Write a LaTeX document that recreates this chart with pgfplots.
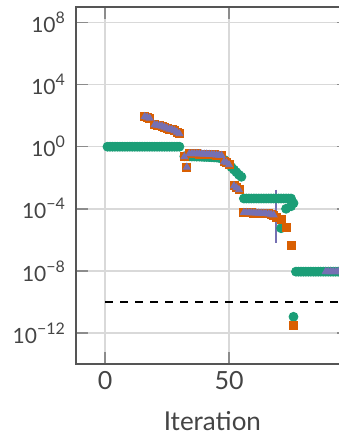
\documentclass[border=0pt]{standalone}
\usepackage{pgfplots}
\pgfplotsset{compat=1.18}
\usepackage{fontspec}
\setmainfont{Lato}
\definecolor{cgreen}{HTML}{1B9E77}
\definecolor{corange}{HTML}{D95F02}
\definecolor{cpurple}{HTML}{7570B3}
\definecolor{txt}{HTML}{444444}
\definecolor{spine}{HTML}{555555}
\definecolor{gridc}{HTML}{D9D9D9}
\definecolor{tickc}{HTML}{8C8C8C}
\newcommand{\tl}[1]{10\raisebox{0.85ex}{\fontsize{8}{8}\selectfont #1}}
\begin{document}
\begin{tikzpicture}
\begin{axis}[
  at={(0,0)}, anchor=south west,
  scale only axis, width=136.4pt, height=178.5pt,
  xmin=-11.7, xmax=98.3, ymode=log, ymin=1e-14, ymax=1e9,
  xtick={0,50}, xticklabels={0,50},
  ytick={1e-12,1e-8,1e-4,1,1e4,1e8},
  yticklabels={\tl{−12},\tl{−8},\tl{−4},\tl{0},\tl{4},\tl{8}},
  yminorticks=false, xminorticks=false,
  tick align=inside, major tick length=6pt,
  grid=major, major grid style={gridc, line width=0.75pt},
  axis line style={spine, line width=0.8pt},
  major tick style={tickc, line width=0.8pt},
  xticklabel style={font=\fontsize{12.5}{14}\selectfont, text=txt},
  yticklabel style={font=\fontsize{10.5}{12}\selectfont, text=txt, xshift=-2pt},
  xlabel={Iteration},
  xlabel style={font=\fontsize{13}{15}\selectfont, text=txt, at={(axis description cs:0.5,0)}, anchor=base, yshift=-33pt},
]
% reference threshold
\addplot[black, line width=1pt, dash pattern=on 4pt off 3.5pt] coordinates {(0,1e-10) (100,1e-10)};
% green
\addplot[only marks, mark=*, mark size=2.25pt, color=cgreen] coordinates {
(1,1)(2,1)(3,1)(4,1)(5,1)(6,1)(7,1)(8,1)(9,1)(10,1)(11,1)(12,1)(13,1)(14,1)(15,1)
(16,1)(17,1)(18,1)(19,1)(20,1)(21,1)(22,1)(23,1)(24,1)(25,1)(26,1)(27,1)(28,1)(29,1)(30,1)
(32,0.24)(33,0.24)(34,0.24)(35,0.235)(36,0.235)(37,0.23)(38,0.23)(39,0.225)(40,0.22)
(41,0.22)(42,0.215)(43,0.21)(44,0.205)(45,0.2)(46,0.19)(47,0.18)
(48,0.145)(49,0.093)(50,0.069)(51,0.048)(52,0.033)(53,0.0225)(54,0.0155)(55,0.0115)
(56,4.6e-4)(57,4.6e-4)(58,4.6e-4)(59,4.6e-4)(60,4.6e-4)(61,4.6e-4)(62,4.6e-4)(63,4.6e-4)
(64,4.6e-4)(65,4.6e-4)(66,4.6e-4)(67,4.6e-4)(68,4.6e-4)(69,4.6e-4)(70,4.6e-4)(71,4.6e-4)
(72,4.6e-4)(73,4.6e-4)(74,4.6e-4)(75,4.6e-4)
(73,1.0e-4)(75,1.45e-4)(76,2.3e-4)
(71,5.6e-6)(76,1.1e-11)
(77,8.9e-9)(78,8.9e-9)(79,8.9e-9)(80,8.9e-9)(81,8.9e-9)(82,8.9e-9)(83,8.9e-9)(84,8.9e-9)
(85,8.9e-9)(86,8.9e-9)(87,8.9e-9)(88,8.9e-9)(89,8.9e-9)(90,8.9e-9)(91,8.9e-9)(92,8.9e-9)
(93,8.9e-9)(94,8.9e-9)(95,8.9e-9)(96,8.9e-9)(97,8.9e-9)(98,8.9e-9)
};
% orange
\addplot[only marks, mark=square*, mark size=2pt, color=corange] coordinates {
(16,87)(17,79)(18,69)
(20,26)(21,24.5)(22,22.5)(23,21)(24,18)(25,15.5)(26,13.5)(27,12.5)(28,10.7)(29,8.7)(30,6.9)
(32,0.224)(33,0.048)
(34,0.35)(35,0.35)(36,0.35)(37,0.35)(38,0.34)(39,0.34)(40,0.33)(41,0.33)(42,0.32)
(43,0.31)(44,0.30)(45,0.29)(46,0.28)(47,0.27)
(48,0.108)(49,0.093)(50,0.069)
(52,3.0e-3)(53,2.25e-3)(54,1.7e-3)
(56,5.8e-5)(57,5.7e-5)(58,5.6e-5)(59,5.5e-5)(60,5.4e-5)(61,5.3e-5)(62,5.2e-5)(63,5.1e-5)
(64,5.0e-5)(65,4.9e-5)(66,4.7e-5)(67,4.4e-5)(68,4.0e-5)
(69,2.6e-5)(71,1.95e-5)(73,6.3e-6)(75,4.1e-7)(76,2.95e-12)
};
% purple
\addplot[only marks, mark=triangle*, mark size=2pt, color=cpurple] coordinates {
(16,87)(17,79)(18,69)
(20,26)(21,24.5)(22,22.5)(23,21)(24,18)(25,15.5)(26,13.5)(27,12.5)(28,10.7)(29,8.7)(30,6.9)
(32,0.224)(33,0.048)
(34,0.35)(35,0.35)(36,0.35)(37,0.35)(38,0.34)(39,0.34)(40,0.33)(41,0.33)(42,0.32)
(43,0.31)(44,0.30)(45,0.29)(46,0.28)(47,0.27)
(48,0.108)(49,0.093)(50,0.069)
(52,3.0e-3)(53,2.25e-3)(54,1.7e-3)
(56,5.8e-5)(57,5.7e-5)(58,5.6e-5)(59,5.5e-5)(60,5.4e-5)(61,5.3e-5)(62,5.2e-5)(63,5.1e-5)
(64,5.0e-5)(65,4.9e-5)(66,4.7e-5)(67,4.4e-5)(68,4.0e-5)
(89,8.9e-9)(90,8.9e-9)(91,8.9e-9)(92,8.9e-9)(93,8.9e-9)(94,8.9e-9)(95,8.9e-9)(96,8.9e-9)(97,8.9e-9)(98,8.9e-9)
};
\addplot[cpurple, line width=1pt, no marks] coordinates {(69,1.7e-3) (69,6.3e-7)};
\end{axis}
\pgfresetboundingbox
\useasboundingbox (-38pt,-34.5pt) rectangle (131pt,182pt);
\end{tikzpicture}
\end{document}
